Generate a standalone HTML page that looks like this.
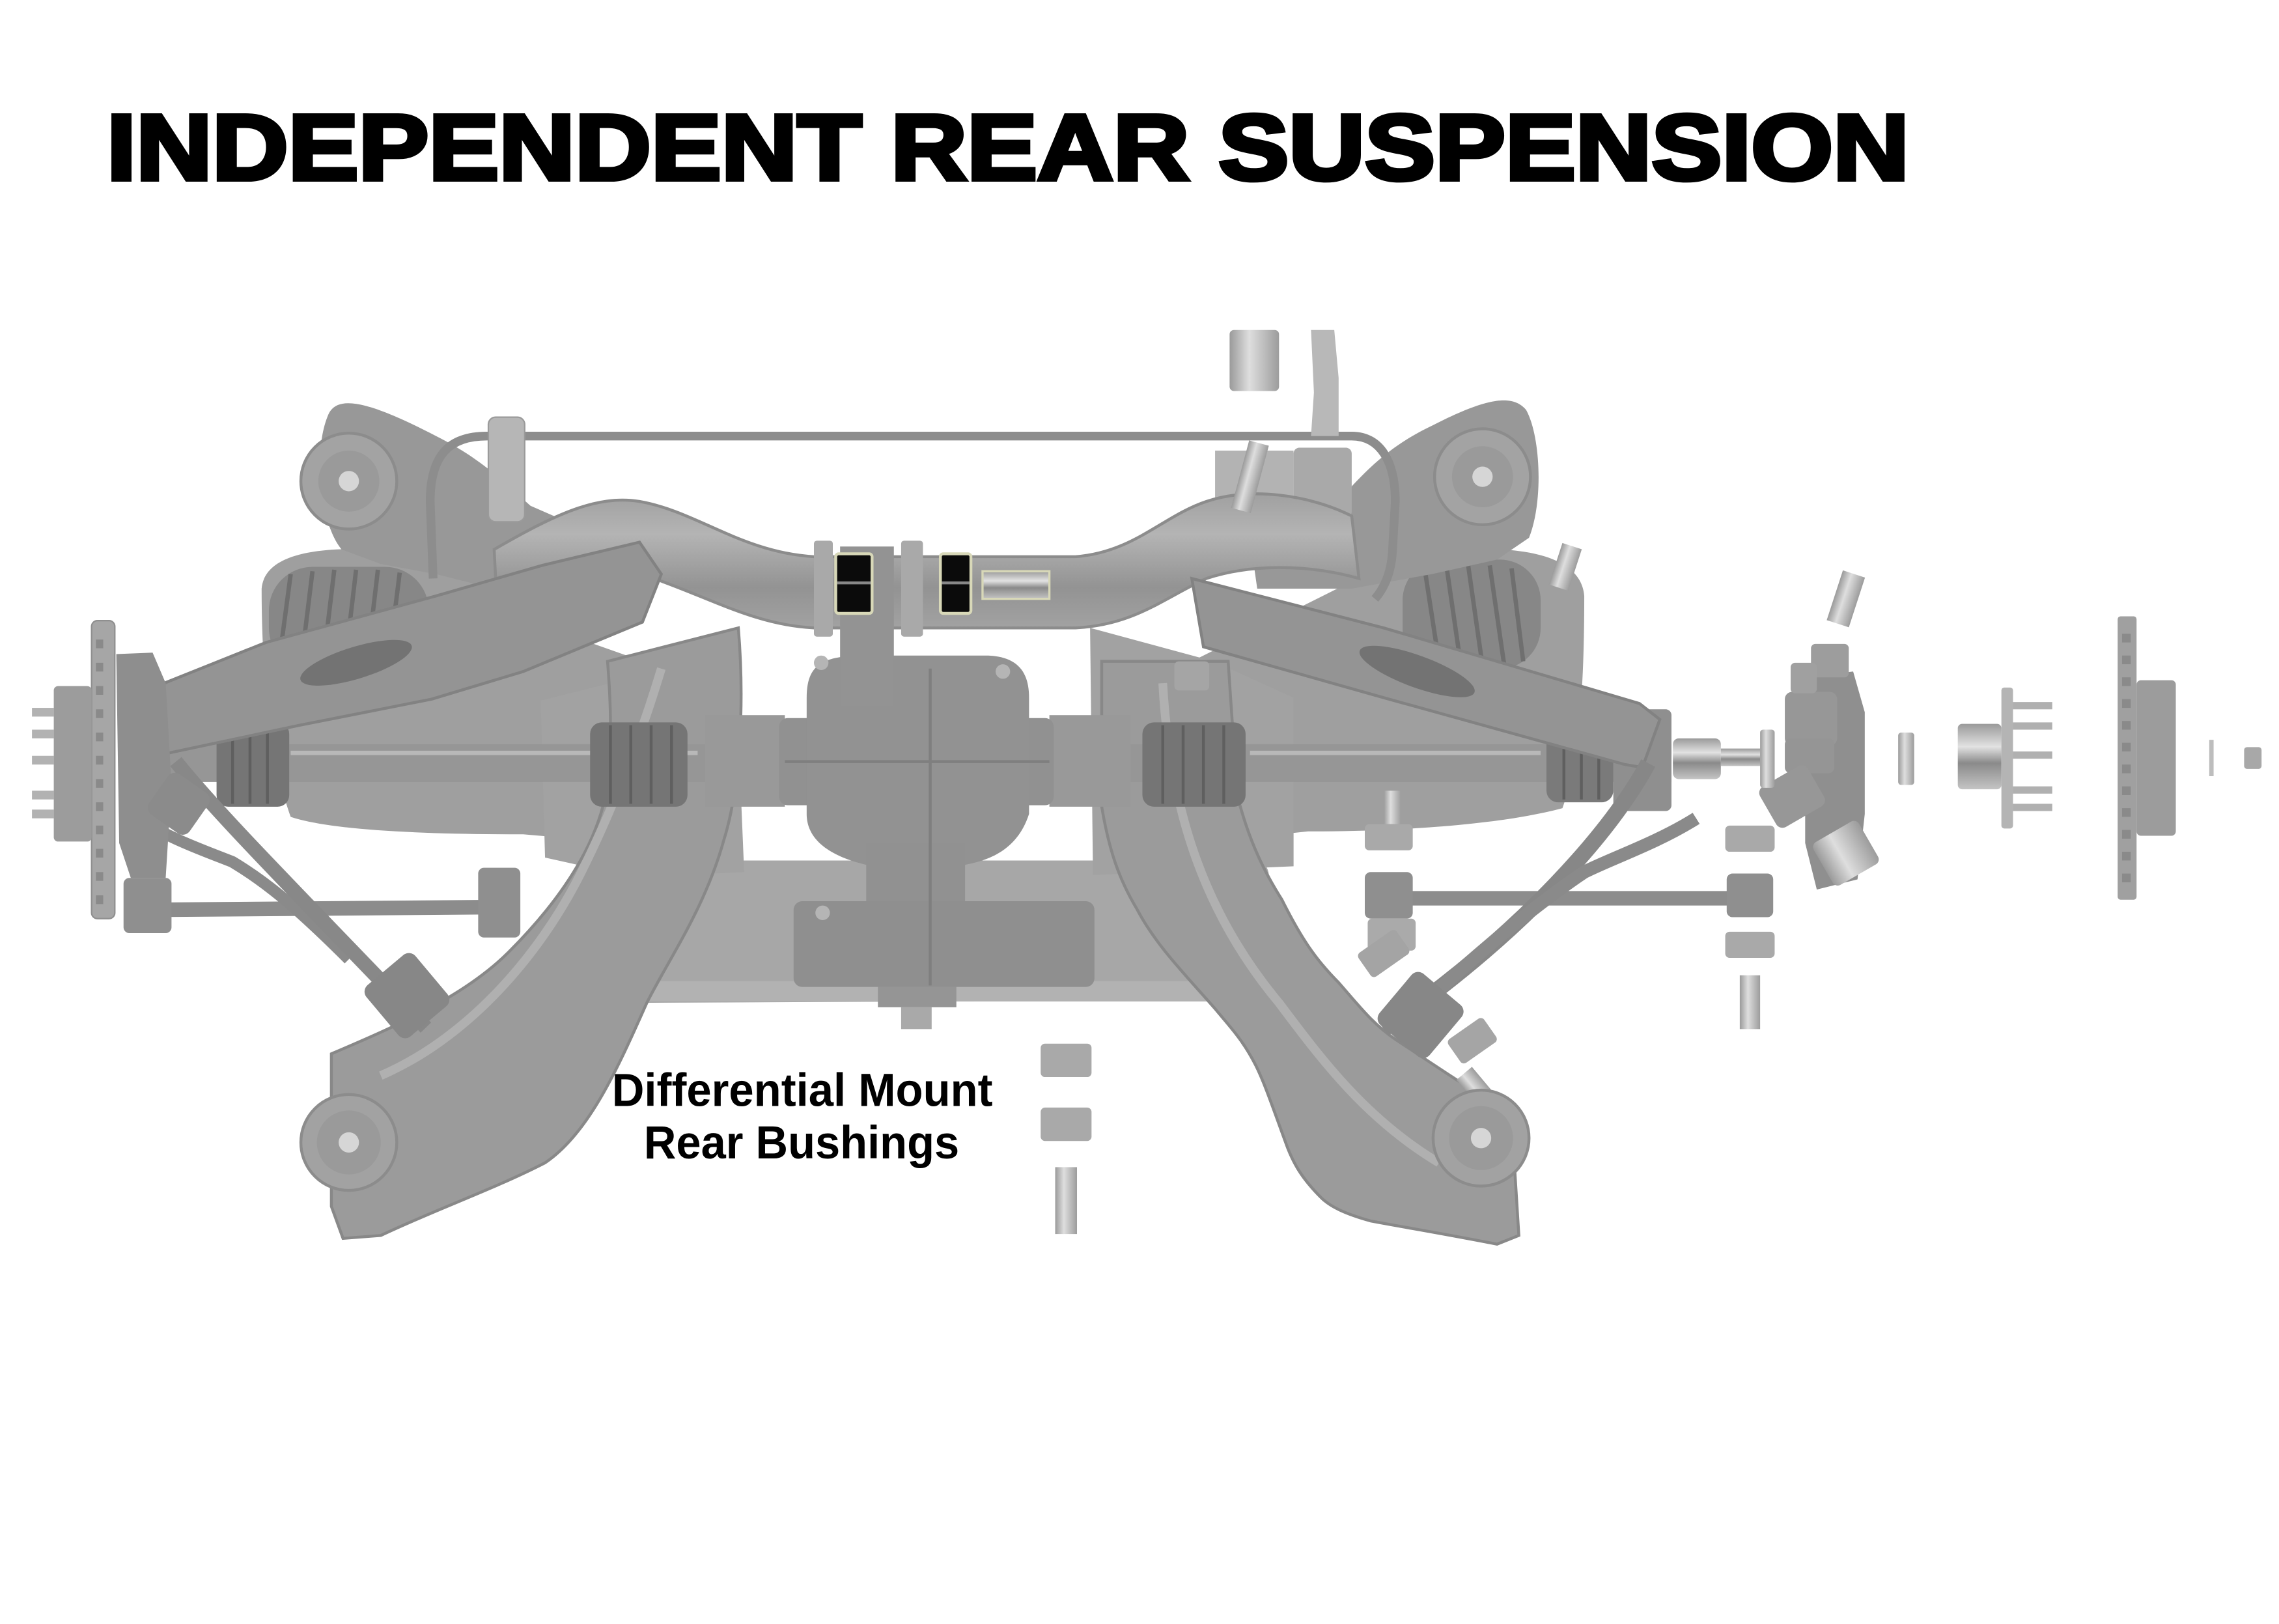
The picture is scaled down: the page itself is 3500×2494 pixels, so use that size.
<!DOCTYPE html>
<html><head><meta charset="utf-8"><style>
html,body{margin:0;padding:0;background:#fff;}
svg{display:block}
</style></head><body>
<svg width="3500" height="2494" viewBox="0 0 1568 1117.3" xmlns="http://www.w3.org/2000/svg">
<defs>
<linearGradient id="metal" x1="0" y1="0" x2="0" y2="1">
<stop offset="0" stop-color="#9a9a9a"/><stop offset="0.35" stop-color="#e2e2e2"/><stop offset="0.6" stop-color="#8a8a8a"/><stop offset="1" stop-color="#c4c4c4"/>
</linearGradient>
<linearGradient id="metalv" x1="0" y1="0" x2="1" y2="0">
<stop offset="0" stop-color="#9a9a9a"/><stop offset="0.4" stop-color="#dedede"/><stop offset="1" stop-color="#9c9c9c"/>
</linearGradient>
<linearGradient id="tube" x1="0" y1="0" x2="0" y2="1">
<stop offset="0" stop-color="#a0a0a0"/><stop offset="0.3" stop-color="#b4b4b4"/><stop offset="0.7" stop-color="#939393"/><stop offset="1" stop-color="#a2a2a2"/>
</linearGradient>
</defs>
<rect width="1568" height="1117.3" fill="#fff"/>

<!-- Title -->
<text x="73.5" y="123.5" font-family="'Liberation Sans', Arial, sans-serif" font-weight="bold" font-size="64" textLength="1240" lengthAdjust="spacingAndGlyphs" fill="#000" stroke="#000" stroke-width="3" stroke-linejoin="miter">INDEPENDENT REAR SUSPENSION</text>

<!-- ===== BACK LAYER ===== -->
<path d="M428 600 Q430 592 440 592 L862 592 Q872 592 873 602 L876 688 L426 690 Z" fill="#a7a7a7"/>
<rect x="430" y="675" width="444" height="14" fill="#b2b2b2"/>
<path d="M180 405 C182 382 215 376 260 378 L300 385 L400 440 L485 470 L488 585 L360 574 C300 574 230 572 200 562 C185 520 180 460 180 405 Z" fill="#9f9f9f"/>
<path d="M1090 410 C1088 385 1055 376 1010 378 L960 385 L870 430 L790 470 L778 585 L900 572 C960 572 1030 568 1075 556 C1088 520 1090 460 1090 410 Z" fill="#9f9f9f"/>
<rect x="185" y="390" width="110" height="72" rx="30" fill="#878787"/>
<g stroke="#6f6f6f" stroke-width="3">
<line x1="200" y1="395" x2="192" y2="455"/><line x1="215" y1="393" x2="207" y2="458"/><line x1="230" y1="392" x2="222" y2="459"/><line x1="245" y1="392" x2="237" y2="460"/><line x1="260" y1="392" x2="252" y2="460"/><line x1="275" y1="394" x2="267" y2="458"/>
</g>
<rect x="965" y="385" width="95" height="75" rx="28" fill="#878787"/>
<g stroke="#6f6f6f" stroke-width="3">
<line x1="980" y1="390" x2="990" y2="455"/><line x1="995" y1="388" x2="1005" y2="457"/><line x1="1010" y1="388" x2="1020" y2="458"/><line x1="1025" y1="389" x2="1035" y2="458"/><line x1="1040" y1="391" x2="1048" y2="455"/>
</g>

<!-- towers -->
<path d="M226 285 C232 272 252 275 300 300 C330 315 345 330 365 348 L420 372 L415 405 L360 410 L300 395 L262 388 L235 378 C220 360 215 310 226 285 Z" fill="#989898"/>
<path d="M1050 282 C1040 270 1020 275 985 293 C960 305 945 318 925 340 L860 370 L865 405 L930 405 L985 395 L1030 385 L1052 370 C1062 345 1060 300 1050 282 Z" fill="#989898"/>
<rect x="836" y="310" width="54" height="40" fill="#b3b3b3"/>
<circle cx="240" cy="331" r="33" fill="#a3a3a3" stroke="#8c8c8c" stroke-width="2"/>
<circle cx="240" cy="331" r="21" fill="#9a9a9a"/>
<circle cx="240" cy="331" r="7" fill="#d6d6d6"/>
<circle cx="1020" cy="328" r="33" fill="#a3a3a3" stroke="#8c8c8c" stroke-width="2"/>
<circle cx="1020" cy="328" r="21" fill="#9a9a9a"/>
<circle cx="1020" cy="328" r="7" fill="#d6d6d6"/>

<!-- stabilizer bar -->
<path d="M298 398 L296 345 C296 312 310 300 335 300 L930 300 C950 300 960 318 960 345 L958 380 C957 395 952 405 946 412" fill="none" stroke="#8d8d8d" stroke-width="6"/>
<rect x="336" y="287" width="25" height="72" rx="5" fill="#b6b6b6" stroke="#9a9a9a"/>
<rect x="890" y="308" width="40" height="48" rx="4" fill="#a9a9a9"/>

<!-- upper crossmember -->
<path d="M340 378 C380 355 410 340 440 345 C480 352 510 380 560 383 L740 383 C780 380 800 355 830 345 C860 335 900 340 930 355 L935 398 C900 388 860 388 830 398 C800 412 780 430 740 432 L560 432 C520 430 490 412 450 398 C420 388 380 398 342 418 Z" fill="url(#tube)" stroke="#8c8c8c" stroke-width="2"/>

<!-- side plates -->
<path d="M372 482 L420 470 L505 432 L512 600 L470 602 L420 600 L375 590 Z" fill="#a2a2a2"/>
<path d="M750 432 L835 455 L890 480 L890 596 L752 602 Z" fill="#a2a2a2"/>

<!-- ===== LOWER ARMS ===== -->
<path d="M228 725 C275 705 320 685 350 655 C385 620 408 585 416 550 C422 515 420 480 418 455 L508 432 C512 480 510 540 498 578 C485 625 460 660 445 690 C425 735 405 780 375 800 C340 818 300 832 262 850 L236 852 L228 830 Z" fill="#9b9b9b" stroke="#888" stroke-width="2"/>
<path d="M262 740 C320 715 370 660 400 600 C420 560 440 510 455 460" fill="none" stroke="#b0b0b0" stroke-width="6"/>
<path d="M758 455 L845 455 C848 500 850 530 852 550 C860 580 870 600 882 619 C895 645 905 660 921 676 C935 692 945 705 960 715 C975 725 990 735 1010 748 L1040 770 L1045 850 L1030 856 C1000 850 970 845 943 840 C925 835 915 830 909 824 C895 810 890 800 886 790 C875 760 870 745 864 733 C855 715 845 705 836 694 C815 670 795 650 782 625 C770 605 763 585 758 555 Z" fill="#9b9b9b" stroke="#888" stroke-width="2"/>
<path d="M800 470 C805 560 830 630 880 690 C910 730 940 770 990 800" fill="none" stroke="#b0b0b0" stroke-width="6"/>

<!-- ===== DIFFERENTIAL ===== -->
<rect x="485" y="492" width="55" height="63" fill="#999"/>
<rect x="722" y="492" width="56" height="63" fill="#999"/>
<rect x="536" y="494" width="189" height="60" rx="6" fill="#919191"/>
<path d="M555 480 C555 458 565 452 590 451 L680 451 C700 452 708 462 708 480 L708 560 C700 585 680 592 664 595 L596 595 C575 590 555 580 555 560 Z" fill="#929292"/>
<rect x="578" y="376" width="37" height="110" fill="#939393"/>
<rect x="596" y="580" width="68" height="50" fill="#919191"/>
<rect x="546" y="620" width="207" height="59" rx="6" fill="#8f8f8f"/>
<rect x="604" y="679" width="54" height="14" fill="#959595"/>
<rect x="620" y="693" width="21" height="15" fill="#a9a9a9"/>
<line x1="640" y1="460" x2="640" y2="678" stroke="#7f7f7f" stroke-width="2"/>
<line x1="540" y1="524" x2="722" y2="524" stroke="#7f7f7f" stroke-width="2"/>
<circle cx="566" cy="628" r="5" fill="#b5b5b5"/>
<circle cx="565" cy="456" r="5" fill="#b5b5b5"/>
<circle cx="690" cy="462" r="5" fill="#b5b5b5"/>

<!-- center bushings -->
<rect x="560" y="372" width="13" height="66" rx="2" fill="#a9a9a9"/>
<rect x="620" y="372" width="15" height="66" rx="2" fill="#a9a9a9"/>
<rect x="575" y="381" width="25" height="41" rx="2" fill="#0b0b0b" stroke="#d8d8b8" stroke-width="2"/>
<line x1="576" y1="401" x2="599" y2="401" stroke="#888" stroke-width="2"/>
<rect x="647" y="381" width="21" height="41" rx="2" fill="#0b0b0b" stroke="#d8d8b8" stroke-width="2"/>
<line x1="648" y1="401" x2="667" y2="401" stroke="#888" stroke-width="2"/>
<rect x="676" y="393" width="46" height="19" fill="url(#metal)" stroke="#d8d8b8" stroke-width="1.5"/>

<!-- ===== AXLES ===== -->
<rect x="105" y="512" width="380" height="26" fill="#969696"/>
<line x1="200" y1="518" x2="480" y2="518" stroke="#b8b8b8" stroke-width="3"/>
<rect x="149" y="497" width="50" height="58" rx="8" fill="#757575"/>
<rect x="406" y="497" width="67" height="58" rx="8" fill="#757575"/>
<g stroke="#5f5f5f" stroke-width="2">
<line x1="160" y1="499" x2="160" y2="553"/><line x1="172" y1="499" x2="172" y2="553"/><line x1="184" y1="499" x2="184" y2="553"/>
<line x1="420" y1="499" x2="420" y2="553"/><line x1="434" y1="499" x2="434" y2="553"/><line x1="448" y1="499" x2="448" y2="553"/><line x1="462" y1="499" x2="462" y2="553"/>
</g>
<rect x="778" y="512" width="372" height="26" fill="#969696"/>
<line x1="860" y1="518" x2="1060" y2="518" stroke="#b8b8b8" stroke-width="3"/>
<rect x="786" y="497" width="71" height="58" rx="8" fill="#757575"/>
<rect x="1064" y="497" width="46" height="55" rx="8" fill="#7a7a7a"/>
<g stroke="#5f5f5f" stroke-width="2">
<line x1="800" y1="499" x2="800" y2="553"/><line x1="814" y1="499" x2="814" y2="553"/><line x1="828" y1="499" x2="828" y2="553"/><line x1="842" y1="499" x2="842" y2="553"/>
<line x1="1076" y1="499" x2="1076" y2="550"/><line x1="1088" y1="499" x2="1088" y2="550"/><line x1="1100" y1="499" x2="1100" y2="550"/>
</g>
<rect x="1110" y="488" width="40" height="70" rx="4" fill="#8f8f8f"/>

<!-- ===== UPPER ARMS ===== -->
<path d="M88 480 L183 442 L300 410 L373 389 L440 373 L455 395 L442 428 L360 462 L297 481 L206 499 L107 520 L95 515 Z" fill="#949494" stroke="#828282" stroke-width="2"/>
<ellipse cx="245" cy="456" rx="40" ry="11" transform="rotate(-17 245 456)" fill="#737373"/>
<path d="M820 398 L952 432 L1128 484 L1142 495 L1130 528 L1118 526 L952 480 L828 445 Z" fill="#949494" stroke="#828282" stroke-width="2"/>
<ellipse cx="975" cy="462" rx="42" ry="11" transform="rotate(20 975 462)" fill="#737373"/>
<rect x="808" y="455" width="24" height="20" rx="3" fill="#a5a5a5"/>

<!-- ===== LINKS ===== -->
<line x1="100" y1="626" x2="352" y2="624" stroke="#8c8c8c" stroke-width="10"/>
<path d="M91 559 C110 575 140 585 160 593 C180 605 200 620 240 660" fill="none" stroke="#8a8a8a" stroke-width="8"/>
<path d="M121 524 C150 560 200 610 293 707" fill="none" stroke="#888" stroke-width="10"/>
<rect x="329" y="597" width="29" height="48" rx="4" fill="#8f8f8f"/>
<rect x="258" y="662" width="44" height="46" rx="6" transform="rotate(-40 280 685)" fill="#878787"/>

<line x1="955" y1="618" x2="1205" y2="618" stroke="#8c8c8c" stroke-width="10"/>
<path d="M1134 525 C1110 570 1050 640 952 708" fill="none" stroke="#878787" stroke-width="11"/>
<path d="M1167 563 C1140 580 1110 590 1090 600 C1060 620 1010 660 965 705" fill="none" stroke="#8a8a8a" stroke-width="9"/>
<rect x="955" y="675" width="45" height="46" rx="6" transform="rotate(40 977 698)" fill="#878787"/>
<rect x="939" y="600" width="33" height="32" rx="4" fill="#8f8f8f"/>
<rect x="1188" y="601" width="32" height="30" rx="4" fill="#8f8f8f"/>
<rect x="998" y="706" width="30" height="20" rx="3" transform="rotate(-35 1013 716)" fill="#a5a5a5"/>
<rect x="1010" y="735" width="14" height="30" transform="rotate(-40 1017 750)" fill="url(#metalv)"/>

<!-- lower bushings -->
<circle cx="240" cy="786" r="33" fill="#a2a2a2" stroke="#8c8c8c" stroke-width="2"/>
<circle cx="240" cy="786" r="22" fill="#9a9a9a"/>
<circle cx="240" cy="786" r="7" fill="#d6d6d6"/>
<circle cx="1019" cy="783" r="33" fill="#a2a2a2" stroke="#8c8c8c" stroke-width="2"/>
<circle cx="1019" cy="783" r="22" fill="#9a9a9a"/>
<circle cx="1019" cy="783" r="7" fill="#d6d6d6"/>

<!-- ===== LEFT WHEEL END ===== -->
<rect x="63" y="427" width="16" height="205" rx="4" fill="#a6a6a6" stroke="#8f8f8f"/>
<g fill="#8a8a8a">
<rect x="66" y="440" width="5" height="6"/><rect x="66" y="456" width="5" height="6"/><rect x="66" y="472" width="5" height="6"/><rect x="66" y="488" width="5" height="6"/><rect x="66" y="504" width="5" height="6"/><rect x="66" y="520" width="5" height="6"/><rect x="66" y="536" width="5" height="6"/><rect x="66" y="552" width="5" height="6"/><rect x="66" y="568" width="5" height="6"/><rect x="66" y="584" width="5" height="6"/><rect x="66" y="600" width="5" height="6"/><rect x="66" y="616" width="5" height="6"/>
</g>
<rect x="37" y="472" width="26" height="107" rx="3" fill="#9c9c9c"/>
<g fill="#b2b2b2">
<rect x="22" y="487" width="15" height="6"/><rect x="22" y="502" width="15" height="6"/><rect x="22" y="520" width="15" height="6"/><rect x="22" y="544" width="15" height="6"/><rect x="22" y="557" width="15" height="6"/>
</g>
<path d="M80 450 L105 449 L114 470 L118 540 L114 604 L90 604 L82 580 Z" fill="#8e8e8e"/>
<rect x="106" y="536" width="34" height="34" rx="6" transform="rotate(35 123 553)" fill="#8b8b8b"/>
<rect x="85" y="604" width="33" height="38" rx="4" fill="#8f8f8f"/>

<!-- ===== RIGHT EXPLODED ===== -->
<rect x="1262" y="394" width="16" height="36" transform="rotate(18 1270 412)" fill="url(#metalv)"/>
<rect x="1070" y="375" width="14" height="30" transform="rotate(18 1077 390)" fill="url(#metalv)"/>
<path d="M1242 466 L1275 462 L1283 490 L1283 560 L1278 605 L1250 612 L1242 580 Z" fill="#8f8f8f"/>
<rect x="1228" y="476" width="36" height="37" rx="5" fill="#979797"/>
<rect x="1228" y="508" width="34" height="24" rx="4" fill="#959595"/>
<rect x="1214" y="532" width="38" height="32" rx="5" transform="rotate(-30 1233 548)" fill="#979797"/>
<rect x="1252" y="570" width="36" height="34" rx="4" transform="rotate(-30 1270 587)" fill="url(#metalv)"/>
<rect x="1246" y="443" width="26" height="23" rx="3" fill="#9d9d9d"/>
<rect x="1232" y="456" width="18" height="21" rx="3" fill="#a0a0a0"/>
<rect x="1151" y="508" width="33" height="28" rx="4" fill="url(#metal)"/>
<rect x="1184" y="515" width="27" height="12" fill="url(#metal)"/>
<rect x="1211" y="502" width="10" height="40" rx="2" fill="url(#metalv)"/>
<rect x="1306" y="504" width="11" height="36" rx="2" fill="url(#metalv)"/>
<rect x="1347" y="498" width="30" height="45" rx="3" fill="url(#metal)"/>
<rect x="1377" y="473" width="8" height="97" rx="2" fill="#b4b4b4"/>
<g fill="#b0b0b0">
<rect x="1385" y="483" width="27" height="5"/><rect x="1385" y="497" width="27" height="5"/><rect x="1385" y="517" width="27" height="5"/><rect x="1385" y="541" width="27" height="5"/><rect x="1385" y="553" width="27" height="5"/>
</g>
<rect x="1457" y="424" width="13" height="195" rx="2" fill="#a0a0a0"/>
<g fill="#8a8a8a">
<rect x="1460" y="436" width="6" height="6"/><rect x="1460" y="451" width="6" height="6"/><rect x="1460" y="466" width="6" height="6"/><rect x="1460" y="481" width="6" height="6"/><rect x="1460" y="496" width="6" height="6"/><rect x="1460" y="511" width="6" height="6"/><rect x="1460" y="526" width="6" height="6"/><rect x="1460" y="541" width="6" height="6"/><rect x="1460" y="556" width="6" height="6"/><rect x="1460" y="571" width="6" height="6"/><rect x="1460" y="586" width="6" height="6"/><rect x="1460" y="601" width="6" height="6"/>
</g>
<rect x="1470" y="468" width="27" height="107" rx="3" fill="#9c9c9c"/>
<rect x="1520" y="509" width="3" height="25" fill="#bdbdbd"/>
<rect x="1544" y="514" width="12" height="15" rx="2" fill="#a8a8a8"/>
<rect x="1187" y="568" width="34" height="18" rx="3" fill="#a9a9a9"/>
<rect x="1187" y="641" width="34" height="18" rx="3" fill="#a9a9a9"/>
<rect x="1197" y="671" width="14" height="37" fill="url(#metalv)"/>
<rect x="952" y="544" width="12" height="23" fill="url(#metalv)"/>
<rect x="939" y="567" width="33" height="18" rx="3" fill="#a9a9a9"/>
<rect x="941" y="632" width="33" height="22" rx="3" fill="#aaa"/>
<rect x="936" y="646" width="32" height="20" rx="3" transform="rotate(-35 952 656)" fill="#a4a4a4"/>

<!-- top exploded -->
<rect x="846" y="227" width="34" height="42" rx="3" fill="url(#metalv)"/>
<path d="M902 227 L918 227 L921 260 L921 300 L902 300 L904 270 Z" fill="#b8b8b8"/>
<rect x="853" y="304" width="14" height="48" transform="rotate(15 860 328)" fill="url(#metalv)"/>

<!-- bottom exploded -->
<rect x="716" y="718" width="35" height="23" rx="3" fill="#a9a9a9"/>
<rect x="716" y="762" width="35" height="23" rx="3" fill="#a9a9a9"/>
<rect x="726" y="803" width="15" height="46" fill="url(#metalv)"/>

<!-- label -->
<text x="421" y="761" font-family="'Liberation Sans', Arial, sans-serif" font-weight="bold" font-size="32" textLength="262" lengthAdjust="spacingAndGlyphs" fill="#000">Differential Mount</text>
<text x="443" y="797" font-family="'Liberation Sans', Arial, sans-serif" font-weight="bold" font-size="32" textLength="217" lengthAdjust="spacingAndGlyphs" fill="#000">Rear Bushings</text>
</svg>
</body></html>
